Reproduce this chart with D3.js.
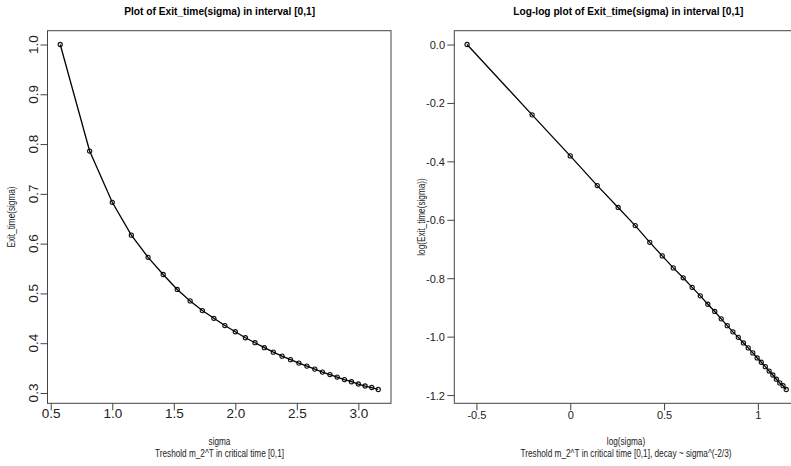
<!DOCTYPE html>
<html><head><meta charset="utf-8">
<script src="https://cdn.jsdelivr.net/npm/d3@7"></script>
<style>
body{margin:0;background:#fff;}
svg{display:block;font-family:"Liberation Sans",Arial,sans-serif;}
</style></head>
<body><svg id="c" width="791" height="466"></svg>
<script>
// sigma values (x of left plot)
const sigma = [0.577,0.816,1.000,1.155,1.291,1.414,1.528,1.633,1.732,1.826,1.915,2.000,2.082,2.160,2.236,
               2.309,2.380,2.449,2.517,2.582,2.646,2.708,2.769,2.828,2.887,2.944,3.000,3.055,3.109,3.162];
// Exit_time(sigma) values
const exitTime = [1.000,0.786,0.683,0.617,0.5725,0.538,0.508,0.485,0.4655,0.450,0.4355,0.423,0.411,0.401,0.391,
                  0.382,0.374,0.367,0.360,0.354,0.348,0.342,0.337,0.332,0.327,0.3226,0.318,0.314,0.311,0.307];
const leftXTicks = [0.5,1.0,1.5,2.0,2.5,3.0];
const leftXLabels = ["0.5","1.0","1.5","2.0","2.5","3.0"];
const leftYTicks = [0.3,0.4,0.5,0.6,0.7,0.8,0.9,1.0];
const leftYLabels = ["0.3","0.4","0.5","0.6","0.7","0.8","0.9","1.0"];
const rightXTicks = [-0.5,0,0.5,1];
const rightXLabels = ["-0.5","0","0.5","1"];
const rightYTicks = [0,-0.2,-0.4,-0.6,-0.8,-1.0,-1.2];
const rightYLabels = ["0.0","-0.2","-0.4","-0.6","-0.8","-1.0","-1.2"];

const logSigma = sigma.map(Math.log);
const logExit = exitTime.map(Math.log);

const svg = d3.select("#c");
const AX = "#444", TXT = "#222";

function padExtent(arr){
  const e = d3.extent(arr), r = e[1]-e[0];
  return [e[0]-0.04*r, e[1]+0.04*r];
}
function fitText(sel, ratio, target){
  sel.each(function(){
    const w = this.getComputedTextLength();
    const t = target || w*ratio;
    d3.select(this).attr("textLength", t).attr("lengthAdjust","spacingAndGlyphs");
  });
}

function panel(cfg){
  const x = d3.scaleLinear().domain(padExtent(cfg.xs)).range(cfg.xr);
  const y = d3.scaleLinear().domain(padExtent(cfg.ys)).range(cfg.yr);
  const g = svg.append("g");
  // box
  g.append("rect").attr("x",cfg.xr[0]).attr("y",cfg.yr[1])
    .attr("width",cfg.xr[1]-cfg.xr[0]).attr("height",cfg.yr[0]-cfg.yr[1])
    .attr("fill","none").attr("stroke",AX).attr("stroke-width",1);
  // x axis
  const xa = g.append("g").attr("transform",`translate(0,${cfg.yr[0]})`)
    .call(d3.axisBottom(x).tickValues(cfg.xt).tickSize(7).tickFormat((d,i)=>cfg.xl[i]).tickPadding(4));
  xa.select(".domain").remove();
  xa.selectAll("line").attr("stroke",AX);
  xa.selectAll("text").attr("fill",TXT).attr("font-size",cfg.tickFont).attr("dy",null).attr("y",cfg.xLabY);
  // y axis
  const ya = g.append("g").attr("transform",`translate(${cfg.xr[0]},0)`)
    .call(d3.axisLeft(y).tickValues(cfg.yt).tickSize(7).tickFormat((d,i)=>cfg.yl[i]));
  ya.select(".domain").remove();
  ya.selectAll("line").attr("stroke",AX);
  if(cfg.rotY){
    ya.selectAll("text").remove();
    g.selectAll(".ylab").data(cfg.yt).join("text")
      .attr("transform",d=>`translate(${cfg.yLabX},${y(d)}) rotate(-90)`)
      .attr("text-anchor","middle").attr("fill",TXT).attr("font-size",cfg.tickFont)
      .text((d,i)=>cfg.yl[i]);
  } else {
    ya.selectAll("text").attr("fill",TXT).attr("font-size",cfg.tickFont)
      .attr("x",cfg.yLabX-cfg.xr[0]).attr("dy","0.36em");
  }
  // points then line
  const pts = cfg.xs.map((v,i)=>[v,cfg.ys[i]]);
  g.selectAll(".pt").data(pts).join("circle")
    .attr("cx",d=>x(d[0])).attr("cy",d=>y(d[1])).attr("r",2.1)
    .attr("fill","none").attr("stroke","#111").attr("stroke-width",1.1);
  g.append("path").datum(pts)
    .attr("d",d3.line().x(d=>x(d[0])).y(d=>y(d[1])))
    .attr("fill","none").attr("stroke","#000").attr("stroke-width",1.3);
  // title
  const t = svg.append("text").attr("x",cfg.titleX).attr("y",15).attr("text-anchor","middle")
    .attr("font-weight","bold").attr("font-size",11.5).attr("fill","#000").text(cfg.title);
  fitText(t,null,cfg.titleW);
  // x label lines
  const cx = cfg.labCX;
  const l1 = svg.append("text").attr("x",cx).attr("y",445).attr("text-anchor","middle")
    .attr("font-size",10).attr("fill",TXT).text(cfg.xlab);
  fitText(l1,0.82);
  const l2 = svg.append("text").attr("x",cx).attr("y",456.5).attr("text-anchor","middle")
    .attr("font-size",10).attr("fill",TXT).text(cfg.sub);
  fitText(l2,null,cfg.subW);
  // y label
  const yl = svg.append("text")
    .attr("transform",`translate(${cfg.ylabX},${(cfg.yr[0]+cfg.yr[1])/2}) rotate(-90)`)
    .attr("text-anchor","middle").attr("font-size",10).attr("fill",TXT).text(cfg.ylab);
  fitText(yl,0.82);
}

panel({
  xs: sigma, ys: exitTime, xr:[47.5,391], yr:[403.3,30.7],
  xt:leftXTicks, xl:leftXLabels, yt:leftYTicks, yl:leftYLabels,
  tickFont:13.5, xLabY:15, rotY:true, yLabX:37.5,
  title:"Plot of Exit_time(sigma) in interval [0,1]", titleX:219.7, titleW:191,
  xlab:"sigma", sub:"Treshold m_2^T in critical time [0,1]", subW:129, labCX:219.5,
  ylab:"Exit_time(sigma)", ylabX:15
});
panel({
  xs: logSigma, ys: logExit, xr:[454.3,799], yr:[403.3,30.7],
  xt:rightXTicks, xl:rightXLabels, yt:rightYTicks, yl:rightYLabels,
  tickFont:11, xLabY:16, rotY:false, yLabX:445,
  title:"Log-log plot of Exit_time(sigma) in interval [0,1]", titleX:628.3, titleW:230,
  xlab:"log(sigma)", sub:"Treshold m_2^T in critical time [0,1], decay ~ sigma^(-2/3)", subW:211, labCX:626,
  ylab:"log(Exit_time(sigma))", ylabX:425
});
</script></body></html>
